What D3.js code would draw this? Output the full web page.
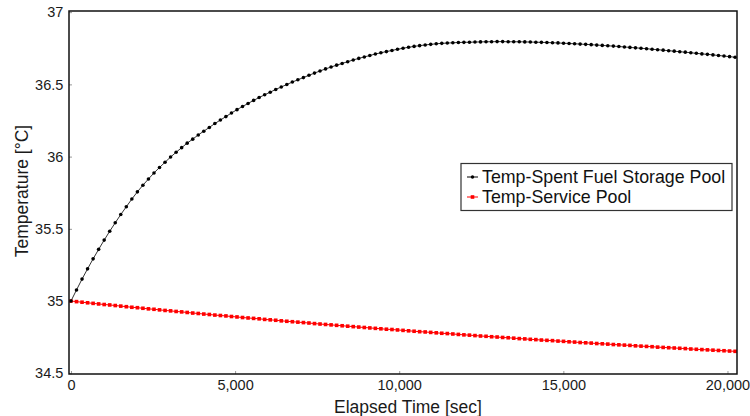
<!DOCTYPE html>
<html>
<head>
<meta charset="utf-8">
<script src="https://cdn.jsdelivr.net/npm/d3@7"></script>
<style>
  body { margin: 0; background: #fff; }
  svg { display: block; font-family: "Liberation Sans", Arial, sans-serif; }
</style>
</head>
<body>
<svg id="chart" width="750" height="416"></svg>
<script>
// sample step of the logged series (sec)
var timeStep = 168.6;

var seriesNames = ["Temp-Spent Fuel Storage Pool", "Temp-Service Pool"];

var spentFuelTemp = [
    35.000, 35.077, 35.152, 35.223, 35.292, 35.358, 35.422, 35.483, 35.542, 35.599,
    35.653, 35.706, 35.756, 35.802, 35.845, 35.887, 35.925, 35.961, 35.997, 36.030,
    36.062, 36.093, 36.121, 36.150, 36.176, 36.202, 36.229, 36.253, 36.277, 36.302,
    36.325, 36.347, 36.368, 36.389, 36.409, 36.428, 36.446, 36.465, 36.482, 36.499,
    36.516, 36.532, 36.547, 36.563, 36.578, 36.593, 36.607, 36.620, 36.633, 36.645,
    36.657, 36.669, 36.680, 36.690, 36.700, 36.710, 36.719, 36.727, 36.735, 36.743,
    36.750, 36.757, 36.763, 36.768, 36.773, 36.777, 36.781, 36.784, 36.786, 36.788,
    36.790, 36.791, 36.792, 36.793, 36.794, 36.795, 36.795, 36.796, 36.796, 36.795,
    36.795, 36.795, 36.794, 36.793, 36.792, 36.791, 36.790, 36.788, 36.787, 36.785,
    36.783, 36.781, 36.779, 36.777, 36.775, 36.772, 36.770, 36.767, 36.765, 36.762,
    36.759, 36.756, 36.753, 36.750, 36.747, 36.743, 36.740, 36.737, 36.733, 36.730,
    36.726, 36.723, 36.719, 36.715, 36.711, 36.708, 36.704, 36.700, 36.696, 36.692,
    36.688
];

var servicePoolTemp = [
    35.000, 34.996, 34.992, 34.988, 34.984, 34.980, 34.976, 34.973, 34.969, 34.965,
    34.961, 34.957, 34.954, 34.950, 34.946, 34.943, 34.939, 34.935, 34.932, 34.928,
    34.925, 34.921, 34.917, 34.914, 34.910, 34.907, 34.903, 34.900, 34.897, 34.893,
    34.890, 34.886, 34.883, 34.880, 34.877, 34.873, 34.870, 34.867, 34.863, 34.860,
    34.857, 34.854, 34.851, 34.848, 34.844, 34.841, 34.838, 34.835, 34.832, 34.829,
    34.826, 34.823, 34.820, 34.817, 34.814, 34.811, 34.808, 34.805, 34.803, 34.800,
    34.797, 34.794, 34.791, 34.788, 34.786, 34.783, 34.780, 34.777, 34.775, 34.772,
    34.769, 34.766, 34.764, 34.761, 34.758, 34.756, 34.753, 34.751, 34.748, 34.746,
    34.743, 34.740, 34.738, 34.735, 34.733, 34.730, 34.728, 34.726, 34.723, 34.721,
    34.718, 34.716, 34.713, 34.711, 34.709, 34.706, 34.704, 34.702, 34.699, 34.697,
    34.695, 34.693, 34.690, 34.688, 34.686, 34.684, 34.681, 34.679, 34.677, 34.675,
    34.673, 34.671, 34.668, 34.666, 34.664, 34.662, 34.660, 34.658, 34.656, 34.654,
    34.652
];

var xTicks = [0, 5000, 10000, 15000, 20000];
var yTicks = [34.5, 35, 35.5, 36, 36.5, 37];

var svg = d3.select("#chart");

var plotLeft = 69, plotRight = 737, plotTop = 11, plotBottom = 374;

var x = d3.scaleLinear().domain([-60, 20290]).range([plotLeft, plotRight]);
var y = d3.scaleLinear().domain([34.495, 37.008]).range([plotBottom, plotTop]);

// axes (inward grey ticks, frame drawn separately)
var xAxis = svg.append("g")
    .attr("transform", "translate(0," + plotBottom + ")")
    .call(d3.axisBottom(x).tickValues(xTicks).tickSize(-3).tickPadding(5.5)
        .tickFormat(d3.format(",")));

var yAxis = svg.append("g")
    .attr("transform", "translate(" + plotLeft + ",0)")
    .call(d3.axisLeft(y).tickValues(yTicks).tickSize(-3).tickPadding(5.7)
        .tickFormat(function (d) { return String(d); }));

[xAxis, yAxis].forEach(function (g) {
    g.attr("font-size", null).attr("font-family", null);
    g.select(".domain").remove();
    g.selectAll(".tick line").attr("stroke", "#999");
    g.selectAll(".tick text")
        .attr("fill", "#1a1a1a")
        .style("font-size", "14.5px");
});

function pts(values) {
    return values.map(function (v, i) { return [i * timeStep, v]; });
}

var line = d3.line()
    .x(function (d) { return x(d[0]); })
    .y(function (d) { return y(d[1]); });

var redPts = pts(servicePoolTemp);
var blackPts = pts(spentFuelTemp);

// service pool (red squares)
svg.append("path")
    .datum(redPts)
    .attr("fill", "none")
    .attr("stroke", "#f00")
    .attr("stroke-width", 1)
    .attr("d", line);

svg.selectAll(".red")
    .data(redPts)
    .enter()
    .append("rect")
    .attr("class", "red")
    .attr("x", function (d) { return x(d[0]) - 1.8; })
    .attr("y", function (d) { return y(d[1]) - 1.8; })
    .attr("width", 3.6)
    .attr("height", 3.6)
    .attr("fill", "#f00");

// spent fuel pool (black dots)
svg.append("path")
    .datum(blackPts)
    .attr("fill", "none")
    .attr("stroke", "#333")
    .attr("stroke-width", 1)
    .attr("d", line);

svg.selectAll(".blk")
    .data(blackPts)
    .enter()
    .append("circle")
    .attr("class", "blk")
    .attr("cx", function (d) { return x(d[0]); })
    .attr("cy", function (d) { return y(d[1]); })
    .attr("r", 1.8)
    .attr("fill", "#000");

// plot frame
svg.append("rect")
    .attr("x", plotLeft)
    .attr("y", plotTop)
    .attr("width", plotRight - plotLeft)
    .attr("height", plotBottom - plotTop)
    .attr("fill", "none")
    .attr("stroke", "#111")
    .attr("stroke-width", 1.5);

// axis titles
svg.append("text")
    .attr("x", (plotLeft + plotRight) / 2 + 5)
    .attr("y", 412.5)
    .attr("text-anchor", "middle")
    .attr("fill", "#1a1a1a")
    .style("font-size", "17.5px")
    .text("Elapsed Time [sec]");

svg.append("text")
    .attr("transform", "translate(27.5,191) rotate(-90)")
    .attr("text-anchor", "middle")
    .attr("fill", "#1a1a1a")
    .style("font-size", "17.5px")
    .text("Temperature [°C]");

// legend
var legend = svg.append("g");
legend.append("rect")
    .attr("x", 461)
    .attr("y", 163.5)
    .attr("width", 271)
    .attr("height", 47)
    .attr("fill", "#fff")
    .attr("stroke", "#333")
    .attr("stroke-width", 1.2);

var colors = ["#000", "#f00"];
seriesNames.forEach(function (name, i) {
    var cy = 177 + i * 20;
    legend.append("line")
        .attr("x1", 467).attr("x2", 478)
        .attr("y1", cy).attr("y2", cy)
        .attr("stroke", colors[i])
        .attr("stroke-width", 1);
    if (i === 0) {
        legend.append("circle").attr("cx", 472.5).attr("cy", cy).attr("r", 1.7).attr("fill", "#000");
    } else {
        legend.append("rect").attr("x", 470.7).attr("y", cy - 1.8).attr("width", 3.6).attr("height", 3.6).attr("fill", "#f00");
    }
    legend.append("text")
        .attr("x", 482)
        .attr("y", cy + 6.3)
        .attr("fill", "#111")
        .style("font-size", "17.8px")
        .text(name);
});
</script>
</body>
</html>
